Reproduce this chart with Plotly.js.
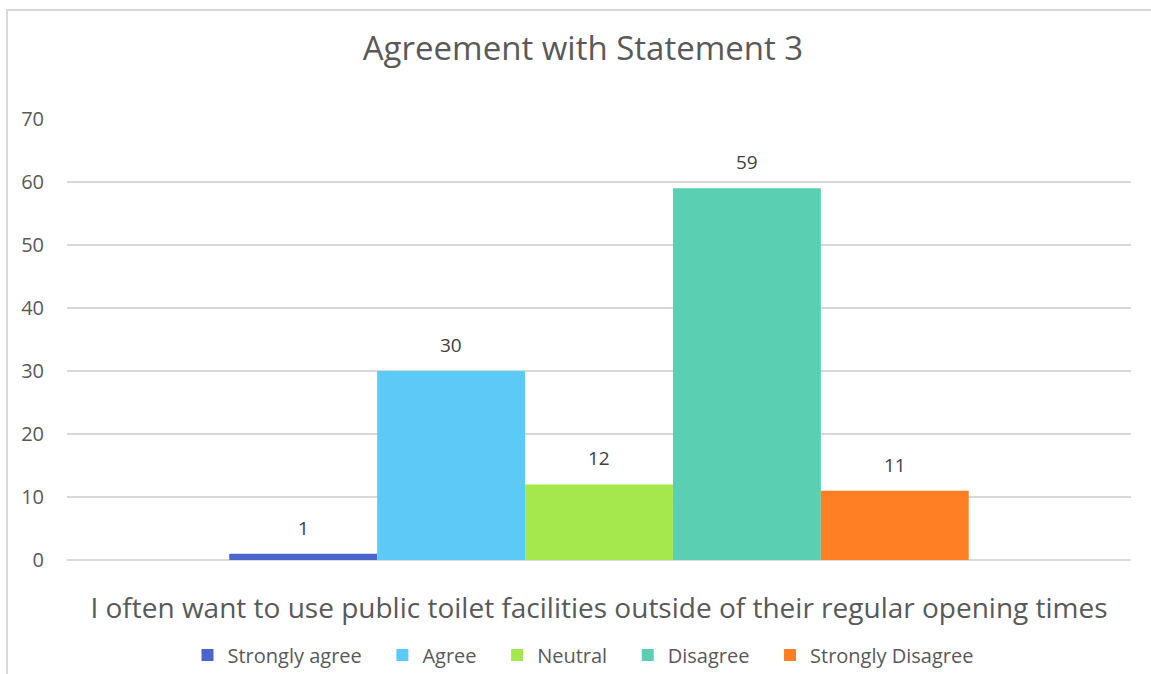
<!DOCTYPE html>
<html>
<head>
<meta charset="utf-8">
<script src="https://cdn.plot.ly/plotly-3.0.1.min.js"></script>
<style>
  html, body { margin: 0; padding: 0; background: #ffffff; }
  #wrap { position: relative; width: 1151px; height: 674px; overflow: hidden; }
  #chart { width: 1151px; height: 674px; }
  #frame { position: absolute; left: 6px; top: 9px; width: 1300px; height: 800px;
           border-left: 2px solid #d9d9d9; border-top: 2px solid #d9d9d9; pointer-events: none; }
</style>
</head>
<body>
<div id="wrap">
  <div id="chart"></div>
  <div id="frame"></div>
</div>
<script>
const chartTitle = "Agreement with Statement 3";
const category = ["I often want to use public toilet facilities outside of their regular opening times"];
const seriesNames = ["Strongly agree", "Agree", "Neutral", "Disagree", "Strongly Disagree"];
const seriesValues = [1, 30, 12, 59, 11];
const seriesColors = ["#4A66CC", "#5BCBF5", "#A5E84E", "#5BCFB1", "#FF7F22"];
const yTicks = [0, 10, 20, 30, 40, 50, 60, 70];

const fontFam = "'Open Sans', 'Noto Sans', sans-serif";
const bargap = 0.305;
const nSeries = seriesNames.length;

const traces = seriesNames.map((name, i) => ({
  type: "bar",
  name: i < nSeries - 1 ? name + "\u00a0\u00a0\u00a0" : name,
  x: category,
  y: [seriesValues[i]],
  marker: { color: seriesColors[i], line: { width: 0 } },
  hoverinfo: "skip"
}));

// value labels above each bar, positioned through the axes
const groupWidth = 1 - bargap;
const annotations = seriesValues.map((v, i) => ({
  xref: "x",
  yref: "y",
  x: -groupWidth / 2 + (i + 0.5) * groupWidth / nSeries,
  y: v,
  text: String(v),
  showarrow: false,
  yanchor: "bottom",
  yshift: 11,
  font: { family: fontFam, size: 19, color: "#404040" }
}));

const layout = {
  width: 1151,
  height: 674,
  margin: { l: 67, r: 20, t: 119, b: 114 },
  paper_bgcolor: "#ffffff",
  plot_bgcolor: "#ffffff",
  barmode: "group",
  bargap: bargap,
  bargroupgap: 0,
  showlegend: true,
  annotations: annotations,
  title: {
    text: chartTitle,
    font: { family: fontFam, size: 33, color: "#595959" },
    xref: "container",
    x: 583 / 1151,
    xanchor: "center",
    y: 1 - 48 / 674,
    yanchor: "middle"
  },
  xaxis: {
    type: "category",
    range: [-0.5, 0.5],
    showticklabels: false,
    showgrid: false,
    zeroline: false,
    showline: false,
    ticks: "",
    title: {
      text: category[0],
      font: { family: fontFam, size: 28, color: "#595959" },
      standoff: 38
    }
  },
  yaxis: {
    range: [0, 70],
    tickvals: yTicks,
    ticktext: yTicks.map(String),
    showgrid: true,
    gridcolor: "#d9d9d9",
    gridwidth: 1.5,
    zeroline: true,
    zerolinecolor: "#d9d9d9",
    zerolinewidth: 1.5,
    showline: false,
    ticks: "",
    ticklabelstandoff: 22,
    tickfont: { family: fontFam, size: 20, color: "#595959" }
  },
  legend: {
    orientation: "h",
    xref: "container",
    yref: "container",
    x: 583 / 1151,
    xanchor: "center",
    y: 1 - 655 / 674,
    yanchor: "middle",
    font: { family: fontFam, size: 20, color: "#595959" },
    itemwidth: 30,
    traceorder: "normal"
  }
};

Plotly.newPlot("chart", traces, layout, { displayModeBar: false, staticPlot: true });
</script>
</body>
</html>
